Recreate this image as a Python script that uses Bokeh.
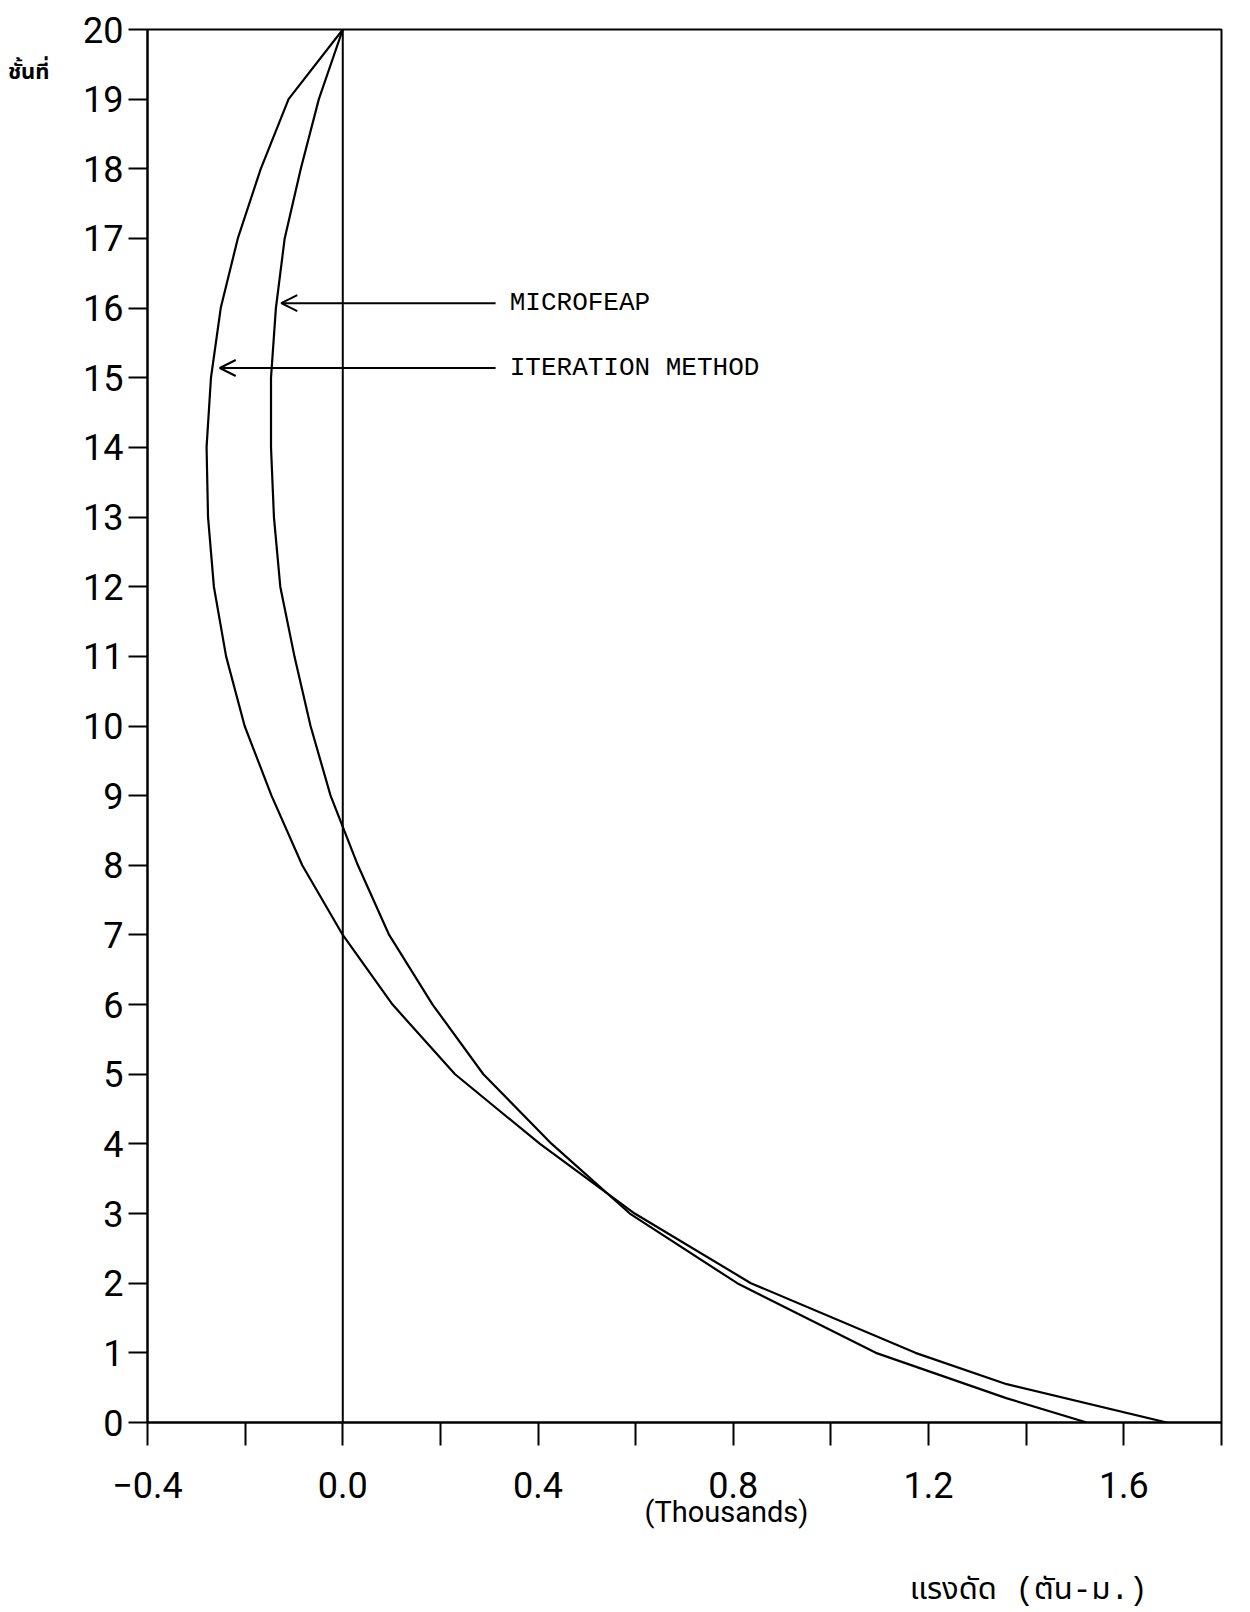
from bokeh.plotting import figure
from bokeh.models import FixedTicker, Span, Label, Arrow, OpenHead, Range1d, LinearAxis
from bokeh.embed import file_html
from bokeh.resources import INLINE

# ---- data (bending moment, thousands of ton-m, per storey) ----
iteration_story = [20, 19, 18, 17, 16, 15, 14, 13, 12, 11, 10, 9, 8, 7, 6, 5, 4, 3, 2, 1, 0.55, 0]
iteration_moment = [0.0, -0.111, -0.168, -0.215, -0.250, -0.270, -0.279, -0.276, -0.264, -0.239,
                    -0.201, -0.146, -0.083, 0.0, 0.102, 0.230, 0.404, 0.598, 0.836, 1.173, 1.36, 1.688]

microfeap_story = [20, 19, 18, 17, 16, 15, 14, 13, 12, 11, 10, 9, 8, 7, 6, 5, 4, 3, 2, 1, 0.35, 0]
microfeap_moment = [0.0, -0.049, -0.086, -0.119, -0.137, -0.147, -0.147, -0.141, -0.128, -0.099,
                    -0.066, -0.025, 0.031, 0.095, 0.184, 0.288, 0.428, 0.588, 0.808, 1.092, 1.359, 1.524]

x_major_ticks = [-0.4, 0.0, 0.4, 0.8, 1.2, 1.6]
x_tick_labels = ["\u22120.4", "0.0", "0.4", "0.8", "1.2", "1.6"]
x_minor_ticks = [-0.2, 0.2, 0.6, 1.0, 1.4, 1.8]
y_ticks = list(range(0, 21))

series_labels = ["MICROFEAP", "ITERATION METHOD"]
y_title = "ชั้นที่"
x_unit_label = "(Thousands)"
x_title = "แรงดัด (ตัน-ม.)"

# where the outside texts sit, in axis units
y_title_at = 19.38
x_unit_at = 0.786
x_title_at = 1.405

TICK_FONT = "Roboto"
THAI_FONT = "Noto Sans Thai, Noto Sans, DejaVu Sans"

p = figure(width=1240, height=1610, x_range=Range1d(-0.4, 1.8), y_range=Range1d(0, 20),
           output_backend="svg", toolbar_location=None,
           min_border_left=147, min_border_right=19, min_border_top=29, min_border_bottom=188)
p.background_fill_color = "white"
p.border_fill_color = "white"
p.xgrid.visible = False
p.ygrid.visible = False
p.outline_line_color = "black"
p.outline_line_width = 2
p.outline_line_alpha = 1.0

# x axis
xa = p.xaxis[0]
xa.ticker = FixedTicker(ticks=x_major_ticks, minor_ticks=x_minor_ticks)
xa.major_label_overrides = {t: l for t, l in zip(x_major_ticks, x_tick_labels)}
xa.axis_line_color = "black"
xa.axis_line_width = 2
xa.major_tick_line_color = "black"
xa.major_tick_line_width = 2
xa.major_tick_in = 0
xa.major_tick_out = 23
xa.minor_tick_line_color = "black"
xa.minor_tick_line_width = 2
xa.minor_tick_in = 0
xa.minor_tick_out = 23
xa.major_label_text_font = TICK_FONT
xa.major_label_text_font_size = "36px"
xa.major_label_text_color = "black"
xa.major_label_standoff = 26

# y axis
ya = p.yaxis[0]
ya.ticker = FixedTicker(ticks=y_ticks, minor_ticks=[])
ya.axis_line_color = "black"
ya.axis_line_width = 2
ya.major_tick_line_color = "black"
ya.major_tick_line_width = 2
ya.major_tick_in = 0
ya.major_tick_out = 19
ya.minor_tick_line_color = None
ya.major_label_text_font = TICK_FONT
ya.major_label_text_font_size = "36px"
ya.major_label_text_color = "black"
ya.major_label_standoff = 5


def text_axis(at, text, font, size, standoff, style="normal"):
    ax = LinearAxis(ticker=FixedTicker(ticks=[at], minor_ticks=[]),
                    major_label_overrides={at: text})
    ax.axis_line_color = None
    ax.major_tick_line_color = None
    ax.minor_tick_line_color = None
    ax.major_tick_out = 0
    ax.major_tick_in = 0
    ax.minor_tick_out = 0
    ax.minor_tick_in = 0
    ax.major_label_text_font = font
    ax.major_label_text_font_size = size
    ax.major_label_text_font_style = style
    ax.major_label_text_color = "black"
    ax.major_label_standoff = standoff
    return ax


# storey title at the top left, "(Thousands)" under the ticks, unit title bottom right
p.add_layout(text_axis(y_title_at, y_title, THAI_FONT, "22px", 31, "bold"), "left")
p.add_layout(text_axis(x_unit_at, x_unit_label, TICK_FONT, "29px", -6), "below")
p.add_layout(text_axis(x_title_at, x_title, "Liberation Mono, " + THAI_FONT, "31px", 41), "below")

# zero line
p.add_layout(Span(location=0, dimension="height", line_color="black", line_width=2))

# curves
p.line(iteration_moment, iteration_story, line_color="black", line_width=2.2)
p.line(microfeap_moment, microfeap_story, line_color="black", line_width=2.2)

# annotation arrows + labels
arrow_specs = [
    (series_labels[0], 16.07, -0.126, 0.313, 0.342),
    (series_labels[1], 15.14, -0.252, 0.313, 0.342),
]
for text, yy, tip, tail, tx in arrow_specs:
    p.add_layout(Arrow(end=OpenHead(size=16, line_width=2, line_color="black"),
                       x_start=tail, y_start=yy, x_end=tip, y_end=yy,
                       line_color="black", line_width=2))
    p.add_layout(Label(x=tx, y=yy, text=text, text_font="Liberation Mono",
                       text_font_size="26px", text_baseline="middle", text_color="black"))

open("out.html", "w").write(file_html(p, INLINE))
